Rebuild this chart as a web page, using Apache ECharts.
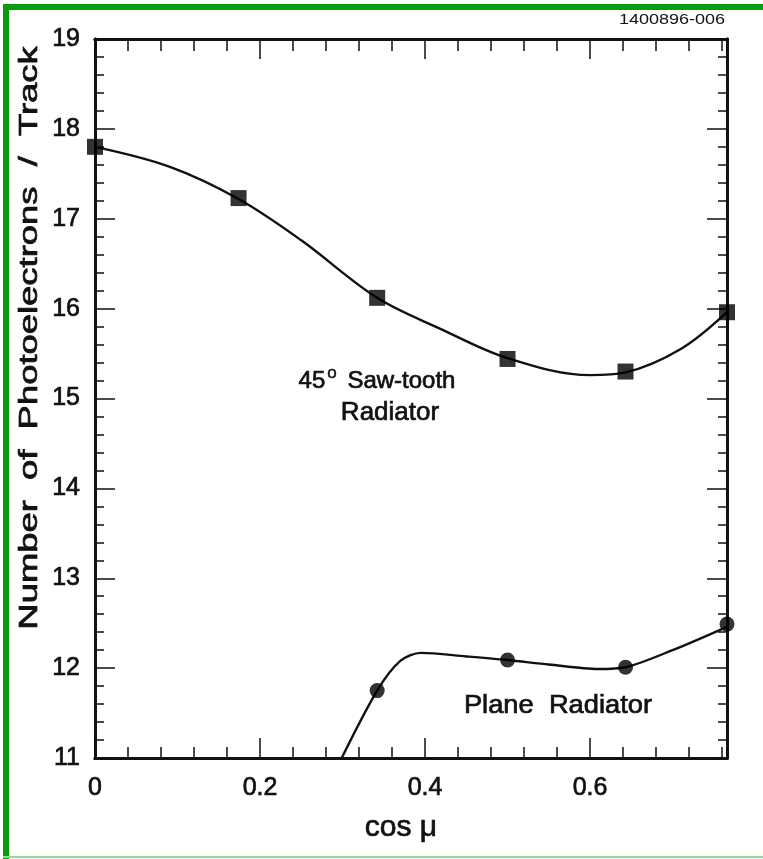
<!DOCTYPE html>
<html>
<head>
<meta charset="utf-8">
<title>Photoelectrons per track vs cos μ</title>
<script src="https://cdn.jsdelivr.net/npm/echarts@6/dist/echarts.min.js"></script>
<style>
  html, body { margin: 0; padding: 0; background: #ffffff; }
  #chart { width: 763px; height: 859px; }
</style>
</head>
<body>
<div id="chart"></div>
<script>
// Measured points (cos μ = cos of incidence angle 90°, 80°, ..., 40°)
const cosMu = [0, 0.174, 0.342, 0.5, 0.643, 0.766];
const sawtooth = [17.80, 17.23, 16.12, 15.44, 15.30, 15.96];
const planeCosMu = [0.342, 0.5, 0.643, 0.766];
const plane = [11.75, 12.09, 12.01, 12.49];

// Smooth guide curves drawn through the measurements
const sawtoothFitX = [0, 0.09, 0.174, 0.25, 0.342, 0.42, 0.5, 0.6, 0.643, 0.71, 0.766];
const sawtoothFitY = [17.80, 17.58, 17.22, 16.76, 16.12, 15.77, 15.45, 15.26, 15.29, 15.55, 15.96];
const planeFitX = [0.299, 0.342, 0.37, 0.395, 0.45, 0.5, 0.55, 0.61, 0.643, 0.70, 0.766];
const planeFitY = [11.0, 11.75, 12.08, 12.17, 12.13, 12.09, 12.04, 11.99, 12.01, 12.20, 12.46];

// Axis ranges and tick labels
const xRange = [0, 0.766];
const yRange = [11, 19];
const xTickLabels = ['0', '0.2', '0.4', '0.6'];
const yTickLabels = ['11', '12', '13', '14', '15', '16', '17', '18', '19'];

const FONT = '"Liberation Sans", Arial, Helvetica, sans-serif';
const INK = '#111111';

const zip = (xs, ys) => xs.map((x, i) => [x, ys[i]]);

function xAxisDef(position, interval, tickLen, withLabels) {
  return {
    type: 'value', position: position, min: xRange[0], max: xRange[1], interval: interval,
    axisLine: { show: true, onZero: false, lineStyle: { color: INK, width: 3 } },
    axisTick: { show: true, inside: true, length: tickLen, lineStyle: { color: INK, width: 1.5 } },
    axisLabel: {
      show: withLabels, margin: 18, showMaxLabel: false,
      color: INK, fontFamily: FONT, fontSize: 25, textBorderColor: INK, textBorderWidth: 0.7,
      formatter: v => {
        const i = Math.round(v / 0.2);
        return Math.abs(v - i * 0.2) < 1e-6 ? (xTickLabels[i] || '') : '';
      }
    },
    splitLine: { show: false }
  };
}

function yAxisDef(position, interval, tickLen, withLabels) {
  return {
    type: 'value', position: position, min: yRange[0], max: yRange[1], interval: interval,
    axisLine: { show: true, onZero: false, lineStyle: { color: INK, width: 3 } },
    axisTick: { show: true, inside: true, length: tickLen, lineStyle: { color: INK, width: 1.5 } },
    axisLabel: {
      show: withLabels, margin: 15, padding: [4, 0, 0, 0],
      color: INK, fontFamily: FONT, fontSize: 25, textBorderColor: INK, textBorderWidth: 0.7,
      formatter: v => yTickLabels[Math.round(v - yRange[0])] || ''
    },
    splitLine: { show: false }
  };
}

const textStyle = (text, size, align) => ({
  text: text, fill: INK, stroke: INK, lineWidth: 0.7,
  font: size + 'px ' + FONT, textAlign: align || 'center', textVerticalAlign: 'middle'
});

const chart = echarts.init(document.getElementById('chart'), null, { renderer: 'canvas' });

chart.setOption({
  backgroundColor: '#ffffff',
  animation: false,
  grid: { left: 95, top: 39, right: 36, bottom: 101, containLabel: false },
  xAxis: [
    xAxisDef('bottom', 0.2, 20, true),
    xAxisDef('bottom', 0.04, 11, false),
    xAxisDef('top', 0.2, 20, false),
    xAxisDef('top', 0.04, 12, false)
  ],
  yAxis: [
    yAxisDef('left', 1, 20, true),
    yAxisDef('left', 0.2, 9, false),
    yAxisDef('right', 1, 20, false),
    yAxisDef('right', 0.2, 9, false)
  ],
  series: [
    {
      name: '45° Saw-tooth fit', type: 'line', xAxisIndex: 0, yAxisIndex: 0,
      data: zip(sawtoothFitX, sawtoothFitY), smooth: 0.35, showSymbol: false,
      lineStyle: { color: INK, width: 2.4 }, z: 3
    },
    {
      name: 'Plane fit', type: 'line', xAxisIndex: 0, yAxisIndex: 0,
      data: zip(planeFitX, planeFitY), smooth: 0.3, showSymbol: false,
      lineStyle: { color: INK, width: 2.4 }, z: 3
    },
    {
      name: '45° Saw-tooth Radiator', type: 'scatter', xAxisIndex: 0, yAxisIndex: 0,
      data: zip(cosMu, sawtooth), symbol: 'rect', symbolSize: 16,
      itemStyle: { color: '#000000' }, z: 5
    },
    {
      name: 'Plane Radiator', type: 'scatter', xAxisIndex: 0, yAxisIndex: 0,
      data: zip(planeCosMu, plane), symbol: 'circle', symbolSize: 15,
      itemStyle: { color: '#000000' }, z: 5
    }
  ],
  graphic: [
    // green page frame
    { type: 'rect', shape: { x: 3, y: 4, width: 760, height: 6 }, style: { fill: '#0b9a0b' }, silent: true },
    { type: 'rect', shape: { x: 3, y: 4, width: 6, height: 855 }, style: { fill: '#0b9a0b' }, silent: true },
    { type: 'rect', shape: { x: 3, y: 856, width: 760, height: 2 }, style: { fill: '#8fdc8f' }, silent: true },
    // figure id
    {
      type: 'text', x: 725, y: 20, scaleX: 1.2,
      style: { text: '1400896-006', fill: INK, font: '15px ' + FONT, textAlign: 'right', textVerticalAlign: 'middle' }
    },
    // axis titles
    {
      type: 'text', x: 30, y: 338, rotation: Math.PI / 2, scaleX: 1.4,
      style: textStyle('Number  of  Photoelectrons  /  Track', 26)
    },
    {
      type: 'text', x: 401, y: 828,
      style: textStyle('cos μ', 30)
    },
    // curve annotations
    {
      type: 'text', x: 377, y: 381,
      style: {
        text: '{n|45}{s|o}{n| Saw-tooth}', fill: INK, textAlign: 'center', textVerticalAlign: 'middle',
        rich: {
          n: { fontFamily: FONT, fontSize: 24, fill: INK, stroke: INK, lineWidth: 0.7 },
          s: { fontFamily: FONT, fontSize: 17, fill: INK, stroke: INK, lineWidth: 0.5, padding: [0, 4, 16, 2] }
        }
      }
    },
    {
      type: 'text', x: 390, y: 413,
      style: textStyle('Radiator', 26)
    },
    {
      type: 'text', x: 558, y: 706, scaleX: 1.05,
      style: textStyle('Plane  Radiator', 26)
    }
  ]
});
</script>
</body>
</html>
